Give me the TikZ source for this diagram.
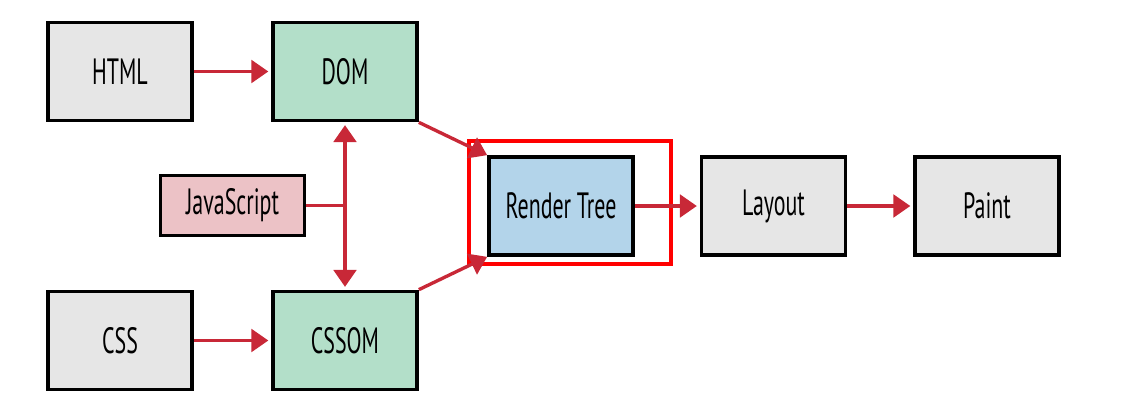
\documentclass[tikz,border=0pt]{standalone}
\usepackage{fontspec}
\setmainfont[FakeStretch=0.6]{PT Sans}
\usepackage{xcolor}
\usepackage{tikz}
\usetikzlibrary{arrows.meta}
\definecolor{boxgray}{RGB}{230,230,230}
\definecolor{boxgreen}{RGB}{179,223,201}
\definecolor{boxpink}{RGB}{236,194,198}
\definecolor{boxblue}{RGB}{179,212,234}
\definecolor{linkred}{RGB}{200,40,55}
\tikzset{
  >={Triangle[length=12pt,width=16pt]},
  block/.style={draw=black, line width=2.6pt, minimum width=3.6cm, minimum height=2.45cm, align=center, font=\fontsize{26}{30}\selectfont},
  src/.style={block, fill=boxgray},
  model/.style={block, fill=boxgreen},
  script/.style={block, fill=boxpink, minimum height=1.5cm},
  tree/.style={block, fill=boxblue},
  stage/.style={block, fill=boxgray},
  wire/.style={draw=linkred, line width=2.4pt},
  link/.style={wire, ->, shorten >=2pt},
  highlight/.style={draw=red, line width=2.6pt}
}

\begin{document}
\begin{tikzpicture}[x=0.025cm, y=-0.025cm]
    \useasboundingbox (0,0) rectangle (1121,415);
    % Sources
    \node[src] (html) at (120,71.5) {HTML};
    \node[src] (css) at (120,340.5) {CSS};
    % Object models
    \node[model] (dom) at (345,71.5) {DOM};
    \node[model] (cssom) at (345,340.5) {CSSOM};
    \node[script] (js) at (232.5,205.5) {JavaScript};
    % Pipeline
    \node[tree] (render) at (561,206) {Render Tree};
    \node[stage] (layout) at (773.5,206) {Layout};
    \node[stage] (paint) at (987,206) {Paint};
    \draw[highlight] (469,141) rectangle (671,264);
    % Connectors
    \draw[link] (html) -- (dom);
    \draw[link] (css) -- (cssom);
    \draw[wire] (js) -- (js -| dom);
    \draw[wire, <->, shorten <=2pt, shorten >=2pt] (dom) -- (cssom);
    \draw[link, shorten >=0pt] (dom.south east) -- (render.north west);
    \draw[link, shorten >=0pt] (cssom.north east) -- (render.south west);
    \draw[link] (render) -- (layout);
    \draw[link] (layout) -- (paint);
\end{tikzpicture}
\end{document}
